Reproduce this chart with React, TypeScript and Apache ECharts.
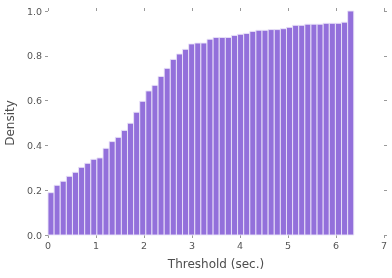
import React, { useEffect, useRef } from "react";
import * as echarts from "echarts";

const binWidth = 0.1274;
const densities = [
  0.189, 0.222, 0.24, 0.262, 0.28, 0.302, 0.32, 0.338, 0.344, 0.387,
  0.417, 0.436, 0.467, 0.499, 0.548, 0.597, 0.643, 0.668, 0.708, 0.744,
  0.784, 0.808, 0.829, 0.853, 0.857, 0.857, 0.874, 0.882, 0.882, 0.882,
  0.891, 0.896, 0.9, 0.909, 0.914, 0.914, 0.917, 0.917, 0.921, 0.927,
  0.936, 0.936, 0.941, 0.941, 0.941, 0.945, 0.945, 0.945, 0.95, 1.0,
];
const xTicks = [0, 1, 2, 3, 4, 5, 6, 7];
const yTicks = [0, 0.2, 0.4, 0.6, 0.8, 1.0];

const FONT = "DejaVu Sans";

export default function App() {
  const ref = useRef<HTMLDivElement>(null);
  useEffect(() => {
    if (!ref.current) return;
    const chart = echarts.init(ref.current, undefined, { renderer: "svg" });
    const data = densities.map((d, i) => [i * binWidth, (i + 1) * binWidth, d]);
    const tickStyle = { show: true, length: 3, inside: false, lineStyle: { color: "#999", width: 1 } };
    const xBase = {
      type: "value" as const,
      min: xTicks[0],
      max: xTicks[xTicks.length - 1],
      interval: 1,
      axisLine: { show: false, onZero: false },
      splitLine: { show: false },
      axisTick: tickStyle,
    };
    const yBase = {
      type: "value" as const,
      min: yTicks[0],
      max: yTicks[yTicks.length - 1],
      interval: 0.2,
      axisLine: { show: false, onZero: false },
      splitLine: { show: false },
      axisTick: tickStyle,
    };
    chart.setOption({
      animation: false,
      grid: { left: 48, right: 8, top: 11, bottom: 43, containLabel: false, outerBoundsMode: "none" },
      xAxis: [
        {
          ...xBase,
          position: "bottom",
          name: "Threshold (sec.)",
          nameLocation: "middle",
          nameGap: 23,
          nameTextStyle: { fontFamily: FONT, fontSize: 12, color: "#4d4d4d" },
          axisLabel: { fontFamily: FONT, fontSize: 9.5, color: "#555", margin: 5 },
        },
        { ...xBase, position: "top", axisLabel: { show: false } },
      ],
      yAxis: [
        {
          ...yBase,
          position: "left",
          name: "Density",
          nameLocation: "middle",
          nameGap: 31,
          nameTextStyle: { fontFamily: FONT, fontSize: 12, color: "#4d4d4d" },
          axisLabel: {
            fontFamily: FONT,
            fontSize: 9.5,
            color: "#555",
            margin: 6,
            formatter: (v: number) => v.toFixed(1),
          },
        },
        { ...yBase, position: "right", axisLabel: { show: false } },
      ],
      series: [
        {
          type: "custom",
          xAxisIndex: 0,
          yAxisIndex: 0,
          data,
          renderItem: (params: any, api: any) => {
            const x0 = api.value(0);
            const x1 = api.value(1);
            const y = api.value(2);
            const p0 = api.coord([x0, y]);
            const p1 = api.coord([x1, 0]);
            return {
              type: "rect",
              shape: { x: p0[0], y: p0[1], width: p1[0] - p0[0], height: p1[1] - p0[1] },
              style: { fill: "#9370DB", stroke: "rgba(235,230,248,0.9)", lineWidth: 1 },
            };
          },
        },
      ],
    });
    return () => chart.dispose();
  }, []);
  return (
    <div
      ref={ref}
      style={{ position: "fixed", left: 0, top: 0, width: 392, height: 278 }}
    />
  );
}
